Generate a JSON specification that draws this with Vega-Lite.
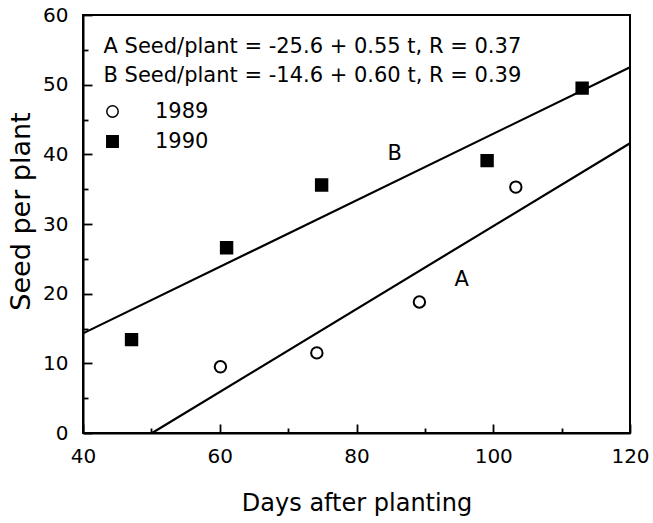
{
  "$schema": "https://vega.github.io/schema/vega-lite/v6.json",
  "width": 547,
  "height": 418,
  "autosize": {"type": "none"},
  "padding": {"left": 83, "top": 15, "right": 23, "bottom": 90},
  "background": "white",
  "config": {
    "font": "DejaVu Sans",
    "view": {"stroke": "black", "strokeWidth": 2},
    "axis": {
      "domainColor": "black",
      "domainWidth": 2,
      "tickColor": "black",
      "tickWidth": 1.8,
      "grid": false,
      "labelColor": "black",
      "labelFont": "DejaVu Sans",
      "labelFontSize": 20,
      "titleColor": "black",
      "titleFont": "DejaVu Sans",
      "titleFontSize": 24,
      "titleFontWeight": "normal"
    },
    "legend": {
      "labelFont": "DejaVu Sans",
      "labelFontSize": 20,
      "labelColor": "black"
    }
  },
  "datasets": {
    "points": [
      {"year": "1989", "day": 60.1, "seed": 9.5},
      {"year": "1989", "day": 74.2, "seed": 11.5},
      {"year": "1989", "day": 89.2, "seed": 18.8},
      {"year": "1989", "day": 103.3, "seed": 35.3},
      {"year": "1990", "day": 47.1, "seed": 13.4},
      {"year": "1990", "day": 61.0, "seed": 26.6},
      {"year": "1990", "day": 74.9, "seed": 35.6},
      {"year": "1990", "day": 99.1, "seed": 39.1},
      {"year": "1990", "day": 113.0, "seed": 49.5}
    ],
    "lines": [
      {"line": "A", "day": 50.1, "seed": 0},
      {"line": "A", "day": 120, "seed": 41.6},
      {"line": "B", "day": 40, "seed": 14.3},
      {"line": "B", "day": 120, "seed": 52.5}
    ],
    "equations": [
      {"day": 43.0, "seed": 54.6, "label": "A Seed/plant = -25.6 + 0.55 t, R = 0.37"},
      {"day": 43.0, "seed": 50.4, "label": "B Seed/plant = -14.6 + 0.60 t, R = 0.39"}
    ],
    "lineLabels": [
      {"day": 85.6, "seed": 39.25, "label": "B"},
      {"day": 95.4, "seed": 21.05, "label": "A"}
    ]
  },
  "encoding": {
    "x": {
      "field": "day",
      "type": "quantitative",
      "scale": {"domain": [40, 120], "nice": false, "zero": false},
      "axis": {
        "title": "Days after planting",
        "values": [40, 50, 60, 70, 80, 90, 100, 110, 120],
        "labelExpr": "datum.value % 20 === 0 ? datum.label : ''",
        "tickSize": {"condition": {"test": "datum.value % 20 === 0", "value": -9}, "value": -5},
        "labelPadding": 22,
        "titlePadding": 25,
        "labelFlush": false
      }
    },
    "y": {
      "field": "seed",
      "type": "quantitative",
      "scale": {"domain": [0, 60], "nice": false, "zero": true},
      "axis": {
        "title": "Seed per plant",
        "titleFontSize": 27,
        "titleY": 196,
        "values": [0, 5, 10, 15, 20, 25, 30, 35, 40, 45, 50, 55, 60],
        "labelExpr": "datum.value % 10 === 0 ? datum.label : ''",
        "tickSize": {"condition": {"test": "datum.value % 10 === 0", "value": -9}, "value": -5},
        "labelPadding": 24,
        "titlePadding": 7,
        "labelFlush": false
      }
    }
  },
  "layer": [
    {
      "data": {"name": "lines"},
      "mark": {"type": "line", "color": "black", "strokeWidth": 2.2},
      "encoding": {"detail": {"field": "line", "type": "nominal"}}
    },
    {
      "data": {"name": "points"},
      "mark": {"type": "point", "filled": true, "stroke": "black", "strokeWidth": 2, "size": 130, "opacity": 1},
      "encoding": {
        "shape": {
          "field": "year",
          "type": "nominal",
          "scale": {"domain": ["1989", "1990"], "range": ["circle", "square"]},
          "legend": {
            "title": null,
            "orient": "none",
            "legendX": 19,
            "legendY": 86,
            "padding": 0,
            "rowPadding": 8,
            "labelOffset": 32,
            "symbolSize": 130,
            "labelFontSize": 21,
            "encode": {"symbols": {"update": {"stroke": {"value": "black"}, "strokeWidth": {"value": 2}, "opacity": {"value": 1}}}}
          }
        },
        "fill": {
          "field": "year",
          "type": "nominal",
          "scale": {"domain": ["1989", "1990"], "range": ["white", "black"]},
          "legend": {
            "title": null,
            "orient": "none",
            "legendX": 19,
            "legendY": 86,
            "padding": 0,
            "rowPadding": 8,
            "labelOffset": 32,
            "symbolSize": 130,
            "labelFontSize": 21,
            "encode": {"symbols": {"update": {"stroke": {"value": "black"}, "strokeWidth": {"value": 2}, "opacity": {"value": 1}}}}
          }
        }
      }
    },
    {
      "data": {"name": "equations"},
      "mark": {"type": "text", "align": "left", "baseline": "alphabetic", "fontSize": 21, "color": "black", "font": "DejaVu Sans"},
      "encoding": {"text": {"field": "label", "type": "nominal"}}
    },
    {
      "data": {"name": "lineLabels"},
      "mark": {"type": "text", "align": "center", "baseline": "alphabetic", "fontSize": 21, "color": "black", "font": "DejaVu Sans"},
      "encoding": {"text": {"field": "label", "type": "nominal"}}
    }
  ]
}
